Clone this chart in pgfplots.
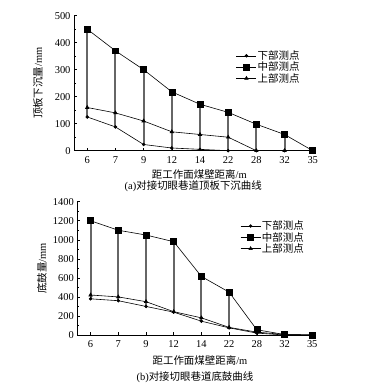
\documentclass[border=0pt]{standalone}
\usepackage{fontspec}
\setmainfont{Liberation Serif}
\newfontfamily\cjk{Noto Sans CJK SC}
\usepackage{pgfplots}
\usepackage{pgfplotstable}
\pgfplotsset{compat=1.18}

\pgfplotstableread{
x low mid up
0 125 450 160
1 88 370 140
2 23 300 110
3 10 218 70
4 5 172 60
5 0 142 50
6 0 98 0
7 0 60 0
8 0 0 0
}\roof

\pgfplotstableread{
x low mid up
0 380 1200 420
1 360 1100 400
2 300 1050 350
3 240 980 245
4 145 615 180
5 75 450 80
6 20 55 30
7 0 5 5
8 0 0 0
}\floor

% vertical links between lower and middle points
\pgfplotstableread{
x y
0 125
0 450
0 nan
1 88
1 370
1 nan
2 23
2 300
2 nan
3 10
3 218
3 nan
4 5
4 172
4 nan
5 0
5 142
5 nan
6 0
6 98
6 nan
7 0
7 60
}\roofseg

\pgfplotstableread{
x y
0 380
0 1200
0 nan
1 360
1 1100
1 nan
2 300
2 1050
2 nan
3 240
3 980
3 nan
4 145
4 615
4 nan
5 75
5 450
5 nan
6 20
6 55
}\floorseg

\pgfplotsset{
  mystyle/.style={
    scale only axis,
    axis x line=bottom, axis y line=left,
    axis line style={-, line width=0.6pt},
    tick align=inside,
    major tick length=3pt, minor tick length=2pt,
    tick style={line width=0.5pt, black},
    xtick={0,...,8},
    xticklabels={6,7,9,12,14,22,28,32,35},
    /pgf/number format/assume math mode=true,
    /pgf/number format/1000 sep={},
    tick label style={font=\fontsize{10.5}{12}\selectfont},
    xticklabel style={yshift=-2pt},
    minor y tick num=1,
    label style={font=\fontsize{10.5}{12}\selectfont},
    legend style={draw=none, fill=none, font=\fontsize{10.5}{11}\selectfont,
      row sep=-1pt, inner sep=0pt, nodes={inner sep=1pt}},
    legend cell align=left,
    legend image code/.code={\draw[mark repeat=2,mark phase=2,##1] plot coordinates {(0bp,0bp) (10bp,0bp) (20bp,0bp)};},
    unbounded coords=jump,
  },
  ser/.style={black, line width=0.6pt, mark options={solid, fill=black}},
  vbar/.style={color=black!60, mark=none, forget plot, line width=2pt},
}

\begin{document}
\begin{tikzpicture}
\path[use as bounding box] (0bp,0bp) rectangle (379bp,388bp);

\begin{axis}[mystyle,
  at={(74bp,237.3bp)}, anchor=south west,
  width=241bp, height=135bp,
  xmin=-0.47, xmax=8.08,
  ymin=0, ymax=500, ytick={0,100,...,500},
  xlabel={{\cjk 距工作面煤壁距离}/m},
  ylabel={{\cjk 顶板下沉量}/mm},
  xlabel style={at={(axis description cs:0.52,-0.173)}, anchor=center},
  ylabel style={at={(axis description cs:-0.15,0.5)}, anchor=center},
  legend style={at={(axis description cs:0.672,0.75)}, anchor=north west},
  after end axis/.code={\node[font=\fontsize{10.5}{12}\selectfont] at (axis description cs:0.495,-0.261) {(a){\cjk 对接切眼巷道顶板下沉曲线}};},
]
\addplot[vbar] table[x=x, y=y] {\roofseg};
\addplot[ser, mark=*, mark size=1.4pt] table[x=x, y=low] {\roof};
\addlegendentry{\cjk 下部测点}
\addplot[ser, mark=square*, mark size=3pt] table[x=x, y=mid] {\roof};
\addlegendentry{\cjk 中部测点}
\addplot[ser, mark=triangle*, mark size=2pt] table[x=x, y=up] {\roof};
\addlegendentry{\cjk 上部测点}
\end{axis}

\begin{axis}[mystyle,
  at={(77.3bp,53bp)}, anchor=south west,
  width=237.7bp, height=133.3bp,
  xmin=-0.48, xmax=8.1,
  ymin=0, ymax=1400, ytick={0,200,...,1400},
  xlabel={{\cjk 距工作面煤壁距离}/m},
  ylabel={{\cjk 底鼓量}/mm},
  xlabel style={at={(axis description cs:0.516,-0.193)}, anchor=center},
  ylabel style={at={(axis description cs:-0.149,0.5)}, anchor=center},
  legend style={at={(axis description cs:0.685,0.865)}, anchor=north west},
  after end axis/.code={\node[font=\fontsize{10.5}{12}\selectfont] at (axis description cs:0.495,-0.32) {(b){\cjk 对接切眼巷道底鼓曲线}};},
]
\addplot[vbar] table[x=x, y=y] {\floorseg};
\addplot[ser, mark=*, mark size=1.4pt] table[x=x, y=low] {\floor};
\addlegendentry{\cjk 下部测点}
\addplot[ser, mark=square*, mark size=3pt] table[x=x, y=mid] {\floor};
\addlegendentry{\cjk 中部测点}
\addplot[ser, mark=triangle*, mark size=2pt] table[x=x, y=up] {\floor};
\addlegendentry{\cjk 上部测点}
\end{axis}
\end{tikzpicture}
\end{document}
